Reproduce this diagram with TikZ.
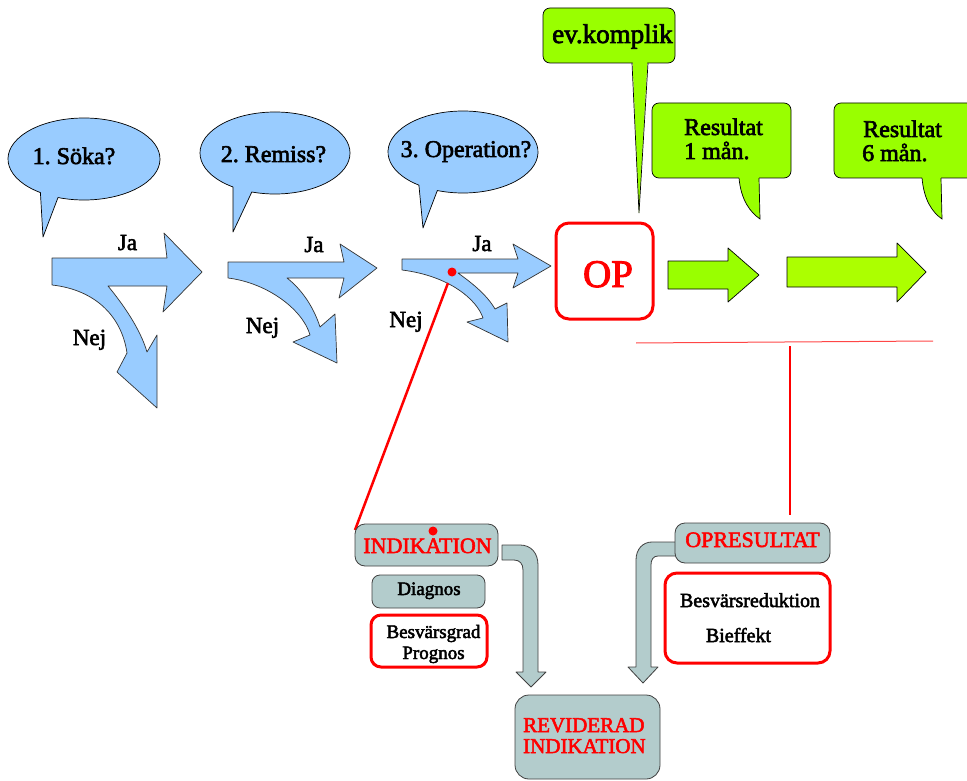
\documentclass[tikz,border=0pt]{standalone}
\usepackage{fontspec}
\setmainfont{Liberation Serif}[FakeBold=2.5]
\definecolor{blu}{RGB}{153,204,255}
\definecolor{lim}{RGB}{153,255,0}
\definecolor{limb}{RGB}{172,255,0}
\definecolor{gry}{RGB}{179,204,204}
\definecolor{lred}{RGB}{255,70,70}
\newcommand\fsz[1]{\fontsize{#1}{#1}\selectfont}
\frenchspacing
\tikzset{
 blueshape/.style={fill=blu, draw=black!80, line width=0.7pt, line join=round},
 bubble/.style={fill=blu, draw=black, line width=0.7pt, line join=round},
 greenshape/.style={fill=lim, draw=black, line width=0.7pt, line join=round},
 grayshape/.style={fill=gry, draw=black!75, line width=0.8pt, line join=round},
 redframe/.style={draw=red, fill=white, line width=3pt},
 lbl/.style={inner sep=0pt, anchor=base},
 lbll/.style={inner sep=0pt, anchor=base west},
}
\begin{document}
\begin{tikzpicture}[x=1pt,y=-1pt]
\useasboundingbox (0,0) rectangle (967,781);
\clip (0,0) rectangle (967,781);

% ---------- speech bubbles ----------
\filldraw[bubble] (84,159) ++(125:76 and 41) arc[start angle=125, end angle=470, x radius=76, y radius=41] -- (43,237) -- cycle;
\filldraw[bubble] (275,153) ++(124:75 and 41) arc[start angle=124, end angle=468, x radius=75, y radius=41] -- (233,232) -- cycle;
\filldraw[bubble] (463,152) ++(126:75 and 41) arc[start angle=126, end angle=470, x radius=75, y radius=41] -- (423,228) -- cycle;
\node[lbl, font=\fsz{24}] (q1) at (74,164) {1. Söka?};
\node[lbl, font=\fsz{24}] (q2) at (273.5,162) {2. Remiss?};
\node[lbl, font=\fsz{24}] (q3) at (466,157) {3. Operation?};

% ---------- blue split arrows ----------
\filldraw[blueshape] (52,258) -- (167,258) -- (164,233) -- (202,272) -- (163,312) -- (167,286) -- (108,286)
  .. controls (122,303) and (140,328) .. (147,352) -- (157,335) -- (157,408) -- (117,372) -- (127,353)
  .. controls (122,318) and (97,290) .. (52,285) -- cycle;
\filldraw[blueshape] (228,262) -- (344,262) -- (340,244) -- (377,268) -- (339,298) -- (344,278) -- (287,278)
  .. controls (300,288) and (313,305) .. (320,327) -- (335,314) -- (337,363) -- (293,342) -- (310,335)
  .. controls (303,310) and (268,283) .. (228,278) -- cycle;
\filldraw[blueshape] (402,259) -- (518,259) -- (513,244) -- (551,266) -- (513,288) -- (518,273) -- (458,273)
  .. controls (472,283) and (487,295) .. (495,309) -- (507,303) -- (508,342) -- (467,322) -- (483,318)
  .. controls (477,300) and (450,276) .. (402,270) -- cycle;
\node[lbl, font=\fsz{23}] (ja1) at (127.5,250) {Ja};
\node[lbl, font=\fsz{23}] (nej1) at (89.5,345) {Nej};
\node[lbl, font=\fsz{23}] (ja2) at (314,252) {Ja};
\node[lbl, font=\fsz{23}] (nej2) at (262.5,333) {Nej};
\node[lbl, font=\fsz{23}] (ja3) at (482,251) {Ja};
\node[lbl, font=\fsz{23}] (nej3) at (406,327) {Nej};

% ---------- green callouts ----------
\filldraw[greenshape, rounded corners=7] (543,8) rectangle (675,63);
\fill[lim] (632.5,61) -- (639,213) -- (647.5,61) -- cycle;
\draw[black, line width=0.7pt] (632,63) -- (639,213) -- (648,63);
\node[lbll, font=\fsz{27}] (komp) at (552,43) {ev.komplik};

\filldraw[greenshape, rounded corners=7] (652,103) rectangle (791,178);
\fill[lim] (739,176) -- (739,178) .. controls (741,200) and (750,212) .. (760,219) -- (759,176) -- cycle;
\draw[black, line width=0.7pt] (739,178) .. controls (741,200) and (750,212) .. (760,219) -- (759,178);
\node[lbll, font=\fsz{24}] (r1a) at (684,135) {Resultat};
\node[lbll, font=\fsz{24}] (r1b) at (684,159) {1 mån.};

\filldraw[greenshape, rounded corners=7] (834,103) rectangle (990,178);
\fill[lim] (922,176) -- (922,178) .. controls (924,200) and (932,212) .. (942,219) -- (941,176) -- cycle;
\draw[black, line width=0.7pt] (922,178) .. controls (924,200) and (932,212) .. (942,219) -- (941,178);
\node[lbll, font=\fsz{24}] (r6a) at (863,137) {Resultat};
\node[lbll, font=\fsz{24}] (r6b) at (862,161) {6 mån.};

% ---------- green arrows ----------
\filldraw[greenshape] (668,261) -- (728,261) -- (728,248) -- (759,275) -- (728,302) -- (728,289) -- (668,289) -- cycle;
\filldraw[greenshape, fill=limb] (787,257) -- (897,257) -- (897,243) -- (926,272) -- (897,302) -- (897,287) -- (787,287) -- cycle;

% ---------- OP ----------
\draw[redframe, rounded corners=13] (556,223) rectangle (653,319);
\node[lbl, text=red, font=\fsz{39}] (op) at (608,287) {OP};

% ---------- red lines ----------
\coordinate (d1) at (452,272);
\coordinate (d2) at (355,530);
\draw[red, line width=2.5pt] (448,283) -- (d2);
\fill[red] (d1) circle (4.5);
\draw[lred, line width=1pt] (636,343) -- (933,341);
\draw[red, line width=1.3pt] (790,346) -- (790,515);

% ---------- gray bent arrows ----------
\filldraw[grayshape] (502,545) -- (520,545) .. controls (531,545) and (538,553) .. (538,565) -- (538,672) -- (546,672) -- (531,687) -- (516,672) -- (523,672) -- (523,570) .. controls (523,564) and (520,560) .. (514,560) -- (502,560) -- cycle;
\filldraw[grayshape] (680,542) -- (652,542) .. controls (643,542) and (636,549) .. (636,560) -- (636,667) -- (628,667) -- (643,683) -- (658,667) -- (651,667) -- (651,565) .. controls (651,560) and (653,556) .. (658,556) -- (680,556) -- cycle;

% ---------- left column ----------
\filldraw[grayshape, rounded corners=10] (355,524) rectangle (498,566);
\node[lbl, text=red, font=\fsz{22}] (ind) at (427.5,553) {INDIKATION};
\fill[red] (433,531) circle (4.5);
\filldraw[grayshape, rounded corners=8] (372,575) rectangle (485,608);
\node[lbl, font=\fsz{19}] (diag) at (429,595) {Diagnos};
\draw[redframe, rounded corners=10] (371,615) rectangle (487,667);
\node[lbl, font=\fsz{19}] (besv) at (433.5,638) {Besvärsgrad};
\node[lbl, font=\fsz{19}] (progn) at (433.5,659) {Prognos};

% ---------- right column ----------
\filldraw[grayshape, rounded corners=10] (675,523) rectangle (830,563);
\node[lbl, text=red, font=\fsz{22}] (opres) at (752.5,547) {OPRESULTAT};
\draw[redframe, rounded corners=12] (665,573) rectangle (830,663);
\node[lbl, font=\fsz{20}] (bred) at (750,607) {Besvärsreduktion};
\node[lbl, font=\fsz{20}] (bief) at (738.5,642) {Bieffekt};

% ---------- revised ----------
\filldraw[grayshape, rounded corners=14] (515,695) rectangle (660,779);
\node[lbll, text=red, font=\fsz{21}] (rev1) at (523,732) {REVIDERAD};
\node[lbll, text=red, font=\fsz{21}] (rev2) at (523,753) {INDIKATION};
\end{tikzpicture}
\end{document}
